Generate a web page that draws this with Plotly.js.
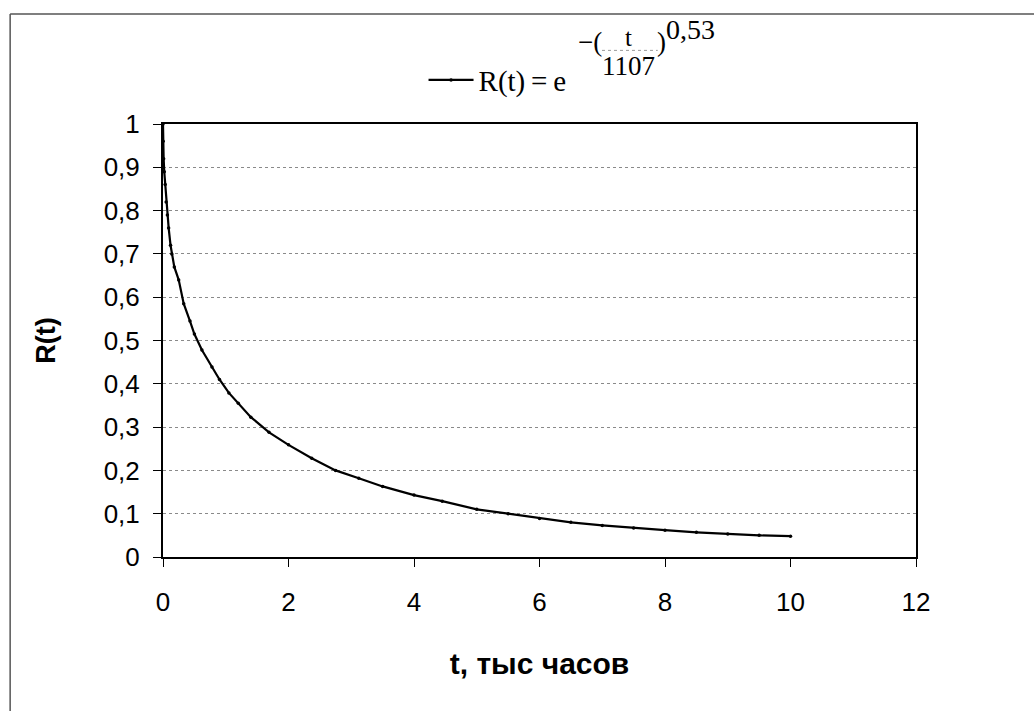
<!DOCTYPE html>
<html>
<head>
<meta charset="utf-8">
<script src="https://cdn.plot.ly/plotly-3.0.1.min.js"></script>
<style>
  html, body { margin: 0; padding: 0; background: #ffffff; }
  #chart { width: 1034px; height: 711px; }
</style>
</head>
<body>
<div id="chart"></div>
<script>
// Reliability curve R(t), t in thousands of hours
const tThousandHours = [0, 0.002, 0.01, 0.02, 0.035, 0.05, 0.07, 0.09, 0.12, 0.14, 0.18,
  0.25, 0.33, 0.43, 0.5, 0.62, 0.78, 0.9, 1.05, 1.2, 1.4, 1.69, 2.0, 2.37, 2.75,
  3.12, 3.5, 4.0, 4.45, 5.0, 5.5, 6.0, 6.5, 7.0, 7.5, 8.0, 8.5, 9.0, 9.5, 10.0];
const reliability = [1.0, 0.96, 0.92, 0.89, 0.86, 0.82, 0.79, 0.76, 0.72, 0.70, 0.67,
  0.64, 0.585, 0.545, 0.515, 0.478, 0.439, 0.41, 0.379, 0.355, 0.323, 0.288, 0.259, 0.228, 0.200,
  0.182, 0.163, 0.143, 0.129, 0.110, 0.100, 0.089, 0.080, 0.073, 0.067, 0.062, 0.057, 0.053, 0.050, 0.048];

const xTicks = [0, 2, 4, 6, 8, 10, 12];
const yTicks = [0, 0.1, 0.2, 0.3, 0.4, 0.5, 0.6, 0.7, 0.8, 0.9, 1];

const sans = 'Liberation Sans, Arial, sans-serif';
const serif = 'Liberation Serif, Times New Roman, serif';

const trace = {
  x: tThousandHours,
  y: reliability,
  type: 'scatter',
  mode: 'lines+markers',
  name: 'R(t)\u2009=\u2009e',
  line: { color: '#000000', width: 2.2 },
  marker: { color: '#000000', size: 3.5 },
  hoverinfo: 'x+y'
};

const layout = {
  width: 1034,
  height: 711,
  margin: { l: 163, r: 118, t: 124, b: 154 },
  paper_bgcolor: '#ffffff',
  plot_bgcolor: '#ffffff',
  separators: ', ',
  showlegend: true,
  legend: {
    x: 0.346, y: 1.1015, xanchor: 'left', yanchor: 'middle',
    itemwidth: 45,
    bgcolor: 'rgba(0,0,0,0)',
    font: { family: serif, size: 29, color: '#000000' }
  },
  xaxis: {
    range: [0, 12],
    tickvals: xTicks,
    ticktext: xTicks.map(String),
    showline: true, linecolor: '#000000', linewidth: 2, mirror: true,
    ticks: 'outside', ticklen: 8, tickwidth: 1, tickcolor: '#000000',
    ticklabelstandoff: 13,
    showgrid: false, zeroline: false,
    tickfont: { family: sans, size: 26, color: '#000000' },
    title: { text: '<b>t, тыс часов</b>', standoff: 37,
             font: { family: sans, size: 30, color: '#000000' } }
  },
  yaxis: {
    range: [0, 1],
    tickvals: yTicks,
    showline: true, linecolor: '#000000', linewidth: 2, mirror: true,
    ticks: 'outside', ticklen: 8, tickwidth: 1, tickcolor: '#000000',
    ticklabelstandoff: 8,
    showgrid: true, gridcolor: '#8a8a8a', gridwidth: 1, griddash: '3px,3px',
    zeroline: false,
    tickfont: { family: sans, size: 26, color: '#000000' },
    title: { text: '<b>R(t)</b>', standoff: 40,
             font: { family: sans, size: 27, color: '#000000' } }
  },
  annotations: [
    // exponent of the formula shown in the legend
    { xref: 'paper', yref: 'paper', x: 0.549, y: 1.19, xanchor: 'left', yanchor: 'middle',
      text: '−(', showarrow: false, font: { family: serif, size: 27, color: '#000' } },
    { xref: 'paper', yref: 'paper', x: 0.618, y: 1.2, xanchor: 'center', yanchor: 'middle',
      text: 't', showarrow: false, font: { family: serif, size: 25, color: '#000' } },
    { xref: 'paper', yref: 'paper', x: 0.618, y: 1.134, xanchor: 'center', yanchor: 'middle',
      text: '1107', showarrow: false, font: { family: serif, size: 27, color: '#000' } },
    { xref: 'paper', yref: 'paper', x: 0.653, y: 1.19, xanchor: 'left', yanchor: 'middle',
      text: ')', showarrow: false, font: { family: serif, size: 27, color: '#000' } },
    { xref: 'paper', yref: 'paper', x: 0.666, y: 1.218, xanchor: 'left', yanchor: 'middle',
      text: '0,53', showarrow: false, font: { family: serif, size: 28, color: '#000' } }
  ],
  shapes: [
    // fraction bar
    { type: 'line', xref: 'paper', yref: 'paper', x0: 0.583, x1: 0.657, y0: 1.17, y1: 1.17,
      line: { color: '#999999', width: 1, dash: 'dot' } },
    // outer frame: top and left edges
    { type: 'line', xref: 'paper', yref: 'paper', x0: -0.203, x1: 1.16, y0: 1.254, y1: 1.254,
      line: { color: '#555555', width: 1.5 } },
    { type: 'line', xref: 'paper', yref: 'paper', x0: -0.203, x1: -0.203, y0: 1.254, y1: -0.36,
      line: { color: '#555555', width: 1.5 } }
  ]
};

Plotly.newPlot('chart', [trace], layout, { displayModeBar: false, staticPlot: true });
</script>
</body>
</html>
